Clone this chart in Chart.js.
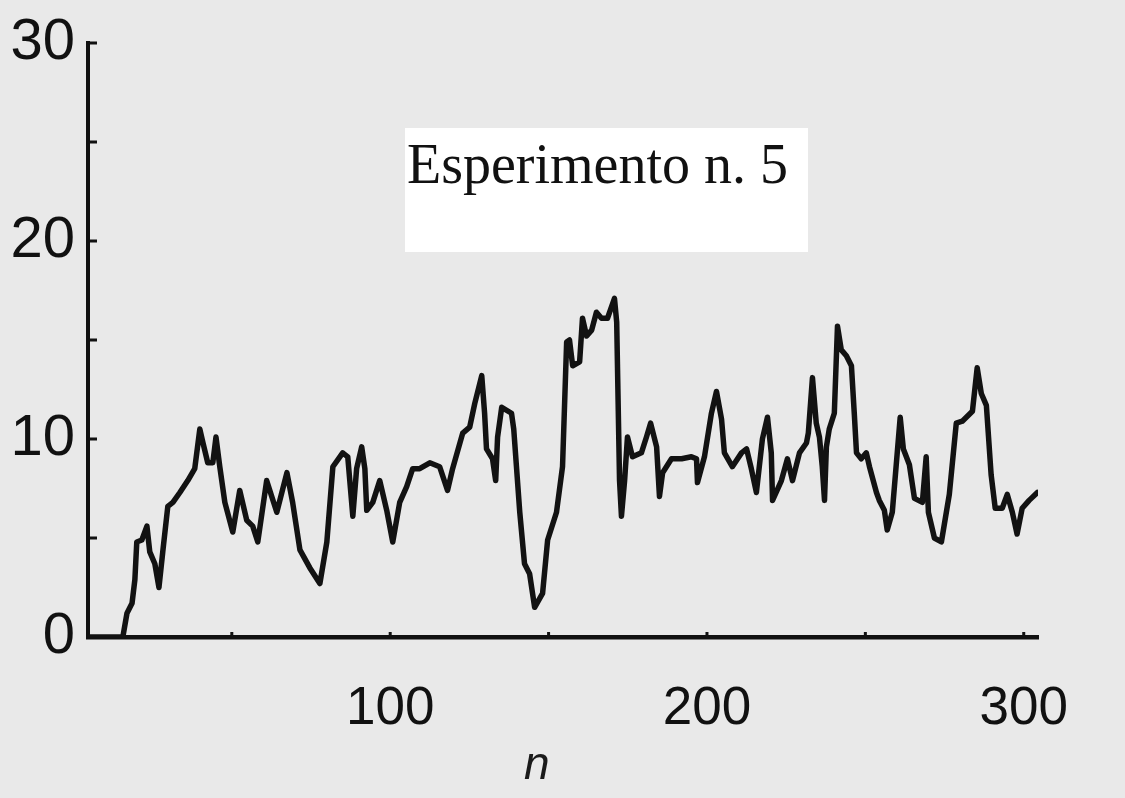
<!DOCTYPE html>
<html><head><meta charset="utf-8">
<script src="https://cdn.jsdelivr.net/npm/chart.js@4.4.1/dist/chart.umd.min.js"></script>
<style>
html,body{margin:0;padding:0;background:#e9e9e9;}
#wrap{position:relative;width:1125px;height:798px;overflow:hidden;background:#e9e9e9;}
canvas{position:absolute;left:0;top:0;}
#title{position:absolute;left:405px;top:128px;width:403px;height:124px;background:#ffffff;font-family:"Liberation Serif","Times New Roman",serif;font-size:56px;color:#111;line-height:1;}
#title span{position:absolute;left:2px;top:8px;white-space:nowrap;}
#xlab{position:absolute;left:524px;top:740px;font-family:"Liberation Sans",Arial,sans-serif;font-style:italic;font-size:46px;color:#1a1a1a;line-height:1;}
</style></head><body>
<div id="wrap"><canvas id="c" width="1125" height="798"></canvas><div id="title"><span>Esperimento n. 5</span></div><div id="xlab">n</div></div>
<script>
const nValues = [4.6,15.6,16.9,18.5,19.4,20.0,21.6,23.2,24.1,25.7,27.0,28.2,29.8,31.4,33.6,36.1,38.3,39.9,40.9,42.4,44.0,45.0,46.2,47.8,50.3,52.5,54.7,56.6,58.2,61.0,64.2,67.4,69.2,71.5,74.6,77.8,80.0,81.9,85.0,86.6,88.2,89.4,91.0,92.0,92.6,94.5,96.7,98.9,100.8,103.0,105.2,107.1,109.3,112.5,115.6,118.1,119.7,122.9,125.1,126.7,128.9,129.8,130.4,132.3,133.3,133.9,135.2,138.3,139.0,140.9,142.4,144.0,145.6,148.1,149.7,152.5,154.4,155.7,156.6,157.6,159.8,160.7,162.0,163.6,165.1,166.7,168.6,170.8,171.5,172.4,173.0,174.0,174.9,176.5,179.3,180.9,182.2,184.1,185.0,186.0,188.8,192.0,195.1,196.7,197.0,199.2,201.4,203.0,204.6,205.5,208.0,210.9,212.5,214.0,215.6,217.5,219.1,220.3,220.7,223.5,225.4,227.0,229.2,231.4,232.0,233.3,234.5,235.5,236.4,237.1,237.7,238.6,240.2,241.2,242.4,244.0,245.6,246.5,247.2,248.7,250.3,251.3,253.5,254.4,256.0,256.9,258.5,261.0,262.0,263.9,265.5,268.0,269.2,269.9,271.8,274.0,276.5,278.7,280.6,283.8,285.3,286.6,288.2,289.7,291.0,293.2,294.8,296.4,297.9,299.5,301.7,304.3];
const queueValues = [0,0,1.2,1.7,2.9,4.8,4.9,5.6,4.3,3.7,2.5,4.3,6.6,6.8,7.3,7.9,8.5,10.5,9.8,8.8,8.8,10.1,8.6,6.8,5.3,7.4,5.9,5.6,4.8,7.9,6.3,8.3,6.8,4.4,3.5,2.7,4.8,8.6,9.3,9.1,6.1,8.5,9.6,8.5,6.4,6.8,7.9,6.4,4.8,6.8,7.6,8.5,8.5,8.8,8.6,7.4,8.5,10.3,10.6,11.8,13.2,11.3,9.5,9.0,7.9,10.1,11.6,11.3,10.5,6.3,3.7,3.2,1.5,2.2,4.9,6.3,8.6,14.9,15.0,13.7,13.9,16.1,15.2,15.5,16.4,16.1,16.1,17.1,15.9,7.9,6.1,7.9,10.1,9.1,9.3,10.1,10.8,9.6,7.1,8.3,9.0,9.0,9.1,9.0,7.8,9.1,11.3,12.4,11.0,9.3,8.6,9.3,9.5,8.5,7.3,10.0,11.1,9.3,6.9,7.9,9.0,7.9,9.3,9.8,10.3,13.1,10.8,10.1,8.6,6.9,9.6,10.5,11.3,15.7,14.5,14.2,13.7,11.3,9.3,9.0,9.3,8.6,7.3,6.9,6.4,5.4,6.3,11.1,9.5,8.7,7.0,6.8,9.1,6.3,5.0,4.8,7.2,10.8,10.9,11.4,13.6,12.3,11.7,8.2,6.5,6.5,7.2,6.3,5.2,6.5,6.9,7.3];
const xTickLabels = [100,200,300];
const yTickLabels = [0,10,20,30];
const xTickMarks = [50,100,150,200,250,300];
const yTickMarks = [5,10,15,20,25,30];

const innerTicks = {
  id:'innerTicks',
  afterDatasetsDraw(chart){
    const {ctx, scales:{x,y}, chartArea:a} = chart;
    ctx.save();
    ctx.strokeStyle='#111'; ctx.lineWidth=3;
    ctx.beginPath();
    yTickMarks.forEach(v=>{const py=y.getPixelForValue(v); ctx.moveTo(a.left,py); ctx.lineTo(a.left+9,py);});
    xTickMarks.forEach(v=>{const px=x.getPixelForValue(v); ctx.moveTo(px,a.bottom); ctx.lineTo(px,a.bottom-5);});
    ctx.stroke();
    ctx.restore();
  }
};

const sans = '"Liberation Sans", Arial, Helvetica, sans-serif';
new Chart(document.getElementById('c'), {
  type:'line',
  data:{datasets:[{
    data: nValues.map((n,i)=>({x:n,y:queueValues[i]})),
    borderColor:'#121212', borderWidth:5.5, pointRadius:0, tension:0,
    borderJoinStyle:'round', borderCapStyle:'round', fill:false
  }]},
  options:{
    responsive:false, animation:false,
    layout:{padding:{top:43,right:87,left:0,bottom:0}},
    plugins:{legend:{display:false},tooltip:{enabled:false},title:{display:false}},
    scales:{
      x:{type:'linear', min:4.6, max:304.5,
        afterBuildTicks:s=>{s.ticks = xTickLabels.map(v=>({value:v}));},
        afterFit:s=>{s.height=161;},
        ticks:{font:{family:sans,size:53,lineHeight:1},color:'#111',padding:46,maxRotation:0,autoSkip:false},
        grid:{display:false,drawTicks:false},
        border:{display:true,color:'#111',width:4.5}
      },
      y:{type:'linear', min:0, max:30,
        afterBuildTicks:s=>{s.ticks = yTickLabels.map(v=>({value:v}));},
        afterFit:s=>{s.width=88;},
        ticks:{font:{family:sans,size:58,lineHeight:1},color:'#111',padding:13,autoSkip:false},
        grid:{display:false,drawTicks:false},
        border:{display:true,color:'#111',width:4}
      }
    }
  },
  plugins:[innerTicks]
});
</script>
</body></html>
